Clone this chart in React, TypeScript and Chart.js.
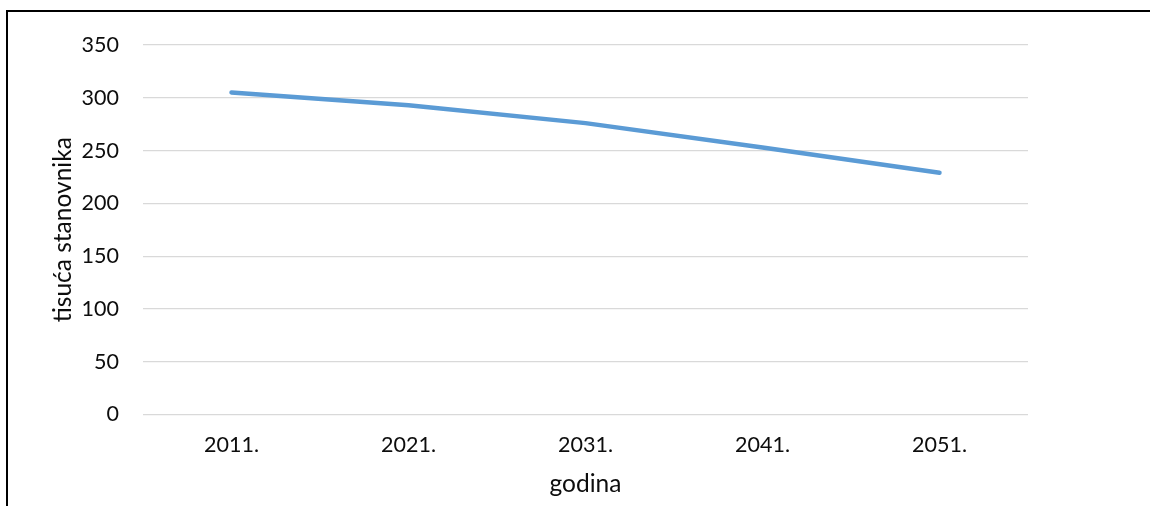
import { useEffect, useRef } from "react";
import { Chart, registerables } from "chart.js";

Chart.register(...registerables);

const YEARS = ["2011.", "2021.", "2031.", "2041.", "2051."];
const POPULATION = [305, 293, 276, 253, 229];
const Y_MIN = 0;
const Y_MAX = 350;
const Y_STEP = 50;

const FONT = "Lato, 'Open Sans', sans-serif";
const TEXT = "#0d0d0d";

export default function App() {
  const ref = useRef<HTMLCanvasElement | null>(null);
  const chartRef = useRef<Chart | null>(null);

  useEffect(() => {
    if (!ref.current) return;
    chartRef.current?.destroy();
    chartRef.current = new Chart(ref.current, {
      type: "line",
      data: {
        labels: YEARS,
        datasets: [
          {
            label: "tisuća stanovnika",
            data: POPULATION,
            borderColor: "#5B9BD5",
            backgroundColor: "#5B9BD5",
            borderWidth: 4.5,
            borderCapStyle: "round",
            borderJoinStyle: "round",
            pointRadius: 0,
            pointHoverRadius: 0,
            tension: 0,
            fill: false,
          },
        ],
      },
      options: {
        responsive: false,
        animation: false,
        devicePixelRatio: 1,
        layout: { padding: { left: 0, top: 45, right: 122, bottom: 0 } },
        plugins: {
          legend: { display: false },
          tooltip: { enabled: false },
        },
        scales: {
          x: {
            offset: true,
            border: { display: false },
            grid: { display: false, drawTicks: false, tickLength: 0 },
            ticks: { color: TEXT, padding: 18, font: { family: FONT, size: 21.5 } },
            title: {
              display: true,
              text: "godina",
              color: TEXT,
              font: { family: FONT, size: 24.5 },
              padding: { top: 0, bottom: 7 },
            },
            afterFit: (scale) => {
              scale.height = 91.5;
            },
          },
          y: {
            min: Y_MIN,
            max: Y_MAX,
            border: { display: false },
            grid: { color: "#D9D9D9", lineWidth: 1.25, drawTicks: false, tickLength: 0 },
            ticks: {
              stepSize: Y_STEP,
              color: TEXT,
              padding: 24,
              font: { family: FONT, size: 21.5 },
            },
            title: {
              display: true,
              text: "tisuća stanovnika",
              color: TEXT,
              font: { family: FONT, size: 24.5 },
              padding: { top: 48.5, bottom: 0 },
            },
            afterFit: (scale) => {
              scale.width = 143;
            },
          },
        },
      },
    });
    return () => {
      chartRef.current?.destroy();
      chartRef.current = null;
    };
  }, []);

  return (
    <div
      style={{
        position: "fixed",
        left: 0,
        top: 0,
        width: 1150,
        height: 506,
        background: "#fff",
        overflow: "hidden",
      }}
    >
      <div
        style={{
          position: "absolute",
          left: 6,
          top: 10,
          width: 1300,
          height: 700,
          borderTop: "2px solid #000",
          borderLeft: "2px solid #000",
        }}
      />
      <canvas
        ref={ref}
        width={1150}
        height={506}
        style={{ position: "absolute", left: 0, top: 0, width: 1150, height: 506 }}
        aria-label="Population projection"
      />
    </div>
  );
}
